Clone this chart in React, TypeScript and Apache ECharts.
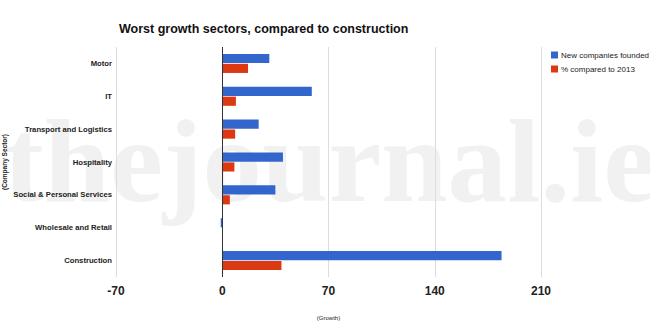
import React, { useEffect, useRef } from "react";
import * as echarts from "echarts";

const categories = [
  "Motor",
  "IT",
  "Transport and Logistics",
  "Hospitality",
  "Social & Personal Services",
  "Wholesale and Retail",
  "Construction",
];
const newCompanies = [31, 59, 24, 40, 35, -1, 184];
const pctCompared = [17, 9, 8.5, 8, 5, 0, 39];
const xTicks = [-70, 0, 70, 140, 210];
const seriesNames = ["New companies founded", "% compared to 2013"];

export default function App() {
  const ref = useRef<HTMLDivElement>(null);
  useEffect(() => {
    const chart = echarts.init(ref.current!, null, { renderer: "svg" });
    chart.setOption({
      animation: false,
      backgroundColor: "#ffffff",
      textStyle: { fontFamily: "Liberation Sans, Arial, sans-serif" },
      title: {
        text: "Worst growth sectors, compared to construction",
        left: 114,
        top: 17,
        textStyle: { fontSize: 12.5, fontWeight: "bold", color: "#111" },
      },
      graphic: [
        {
          type: "text",
          z: -100,
          x: 4,
          y: 102,
          scaleX: 1.01,
          silent: true,
          style: {
            text: "thejournal.ie",
            font: "bold 118px 'Liberation Serif', serif",
            fill: "#f1f1f1",
          },
        },
      ],
      legend: {
        orient: "vertical",
        left: 546,
        top: 46,
        itemWidth: 7,
        itemHeight: 7,
        itemGap: 6,
        icon: "rect",
        textStyle: { fontSize: 8, color: "#222", padding: [0, 0, 0, -2] },
        data: seriesNames,
      },
      grid: { left: 116, right: 109, top: 47, bottom: 49, containLabel: false, outerBoundsMode: "none" },
      xAxis: {
        type: "value",
        min: xTicks[0],
        max: xTicks[xTicks.length - 1],
        interval: 70,
        name: "(Growth)",
        nameLocation: "middle",
        nameGap: 38,
        nameMoveOverlap: false,
        nameTextStyle: { fontSize: 6, color: "#222" },
        axisLine: { show: false },
        axisTick: { show: false },
        axisLabel: { fontSize: 12, fontWeight: "bold", color: "#222", margin: 8 },
        splitLine: { show: true, lineStyle: { color: "#dddddd", width: 1 } },
      },
      yAxis: {
        type: "category",
        data: categories,
        inverse: true,
        name: "(Company Sector)",
        nameLocation: "middle",
        nameGap: 108,
        nameRotate: 90,
        nameMoveOverlap: false,
        nameTextStyle: { fontSize: 6.5, fontWeight: "bold", color: "#222" },
        axisLine: { show: false },
        axisTick: { show: false },
        axisLabel: { fontSize: 7.7, fontWeight: "bold", color: "#222", margin: 4 },
        splitLine: { show: false },
      },
      series: [
        {
          name: seriesNames[0],
          type: "bar",
          data: newCompanies,
          itemStyle: { color: "#3366cc" },
          barGap: "8%",
          barCategoryGap: "42%",
          markLine: {
            silent: true,
            symbol: "none",
            label: { show: false },
            lineStyle: { color: "#333333", width: 1, type: "solid" },
            data: [{ xAxis: 0 }],
          },
        },
        {
          name: seriesNames[1],
          type: "bar",
          data: pctCompared,
          itemStyle: { color: "#dc3912" },
          barGap: "8%",
          barCategoryGap: "42%",
        },
      ],
    });
    return () => chart.dispose();
  }, []);
  return <div ref={ref} style={{ width: 650, height: 326, position: "absolute", left: 0, top: 0 }} />;
}
